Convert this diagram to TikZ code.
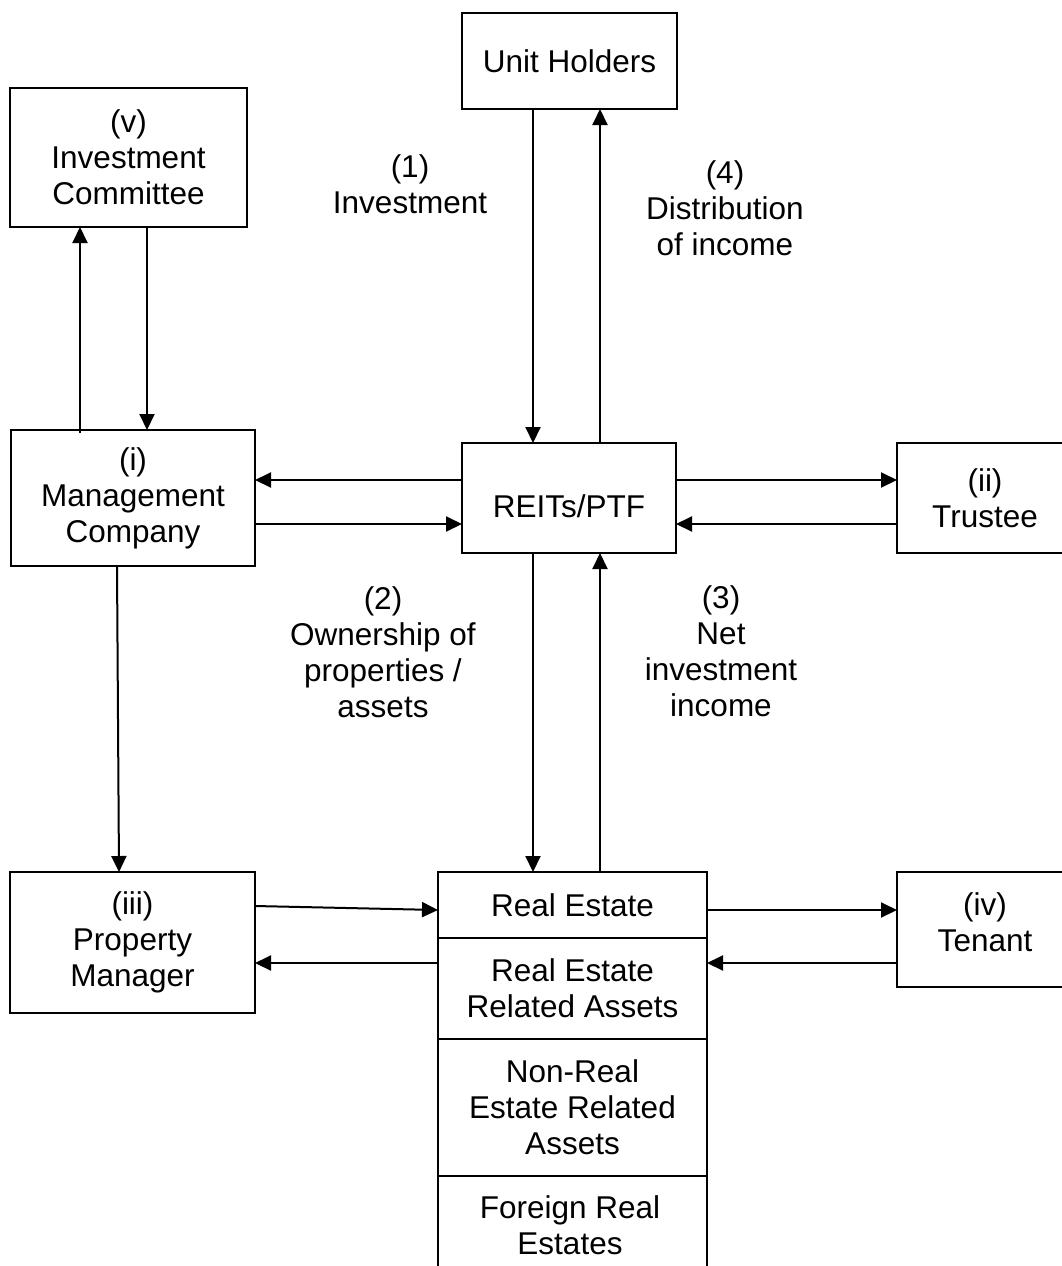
\documentclass[tikz,border=0pt]{standalone}
\usepackage{fontspec}
\setmainfont{Liberation Sans}
\usetikzlibrary{arrows.meta}
\begin{document}
\begin{tikzpicture}[x=1pt,y=-1pt,
  box/.style={draw=black, line width=2pt, rectangle, inner sep=0pt, outer sep=0pt,
    align=center, font=\fontsize{31.5}{36}\selectfont},
  lbl/.style={align=center, inner sep=0pt, font=\fontsize{31.5}{36}\selectfont},
  arr/.style={line width=2pt, -{Triangle[length=16pt,width=15pt]}}]
\fill[white] (0,0) rectangle (1061,1266);
\useasboundingbox (0,0) rectangle (1061,1266);
% boxes
\node[box, minimum width=215pt, minimum height=96pt] (uh) at (569.5,61) {Unit Holders};
\node[box, minimum width=237pt, minimum height=139pt] (ic) at (128.5,157.5) {(v)\\Investment\\Committee};
\node[box, minimum width=244pt, minimum height=136pt] (mc) at (133,498) {(i)\\Management\\Company};
\node[box, minimum width=214pt, minimum height=110pt] (reit) at (569,498) {};
\node[lbl] (reitt) at (569,506) {REITs/PTF};
\node[box, minimum width=176pt, minimum height=110pt] (tr) at (985,498) {(ii)\\Trustee};
\node[box, minimum width=245pt, minimum height=141pt] (pm) at (132.5,942.5) {(iii)\\Property\\Manager};
\node[box, minimum width=176pt, minimum height=115pt] (te) at (985,929.5) {};
\node[lbl] (tet) at (985,922) {(iv)\\Tenant};
\node[box, minimum width=269pt, minimum height=66pt] (re1) at (572.5,905) {Real Estate};
\node[box, minimum width=269pt, minimum height=101pt] (re2) at (572.5,988.5) {Real Estate\\Related Assets};
\node[box, minimum width=269pt, minimum height=137pt] (re3) at (572.5,1107.5) {Non-Real\\Estate Related\\Assets};
\node[box, minimum width=269pt, minimum height=110pt] (re4) at (572.5,1231) {};
\node[lbl] (re4t) at (570,1225) {Foreign Real\\Estates};
% labels
\node[lbl] (l1) at (410,184) {(1)\\Investment};
\node[lbl] (l4) at (725,208) {(4)\\Distribution\\of income};
\node[lbl] (l2) at (383,652) {(2)\\Ownership of\\properties /\\assets};
\node[lbl] (l3) at (721,651) {(3)\\Net\\investment\\income};
% helper coordinates
\coordinate (xa) at (533,0);
\coordinate (xb) at (600,0);
\coordinate (xc) at (80,0);
\coordinate (xd) at (147,0);
\coordinate (ya) at (0,480);
\coordinate (yb) at (0,524);
\coordinate (yc) at (0,910);
\coordinate (yd) at (0,963);
% connectors
\draw[arr] (uh.south -| xa) -- (reit.north -| xa);
\draw[arr] (reit.north -| xb) -- (uh.south -| xb);
\draw[arr] ([yshift=-3pt]mc.north -| xc) -- (ic.south -| xc);
\draw[arr] (ic.south -| xd) -- (mc.north -| xd);
\draw[arr] (reit.west |- ya) -- (mc.east |- ya);
\draw[arr] (mc.east |- yb) -- (reit.west |- yb);
\draw[arr] (reit.east |- ya) -- (tr.west |- ya);
\draw[arr] (tr.west |- yb) -- (reit.east |- yb);
\draw[arr] (reit.south -| xa) -- (re1.north -| xa);
\draw[arr] (re1.north -| xb) -- (reit.south -| xb);
\draw[arr] ([xshift=106pt]mc.south west) -- ([xshift=109pt]pm.north west);
\draw[arr] ([yshift=-34pt]pm.north east) -- ([yshift=-38pt]re1.north west);
\draw[arr] (re2.west |- yd) -- (pm.east |- yd);
\draw[arr] (re1.east |- yc) -- (te.west |- yc);
\draw[arr] (te.west |- yd) -- (re2.east |- yd);
\end{tikzpicture}
\end{document}
